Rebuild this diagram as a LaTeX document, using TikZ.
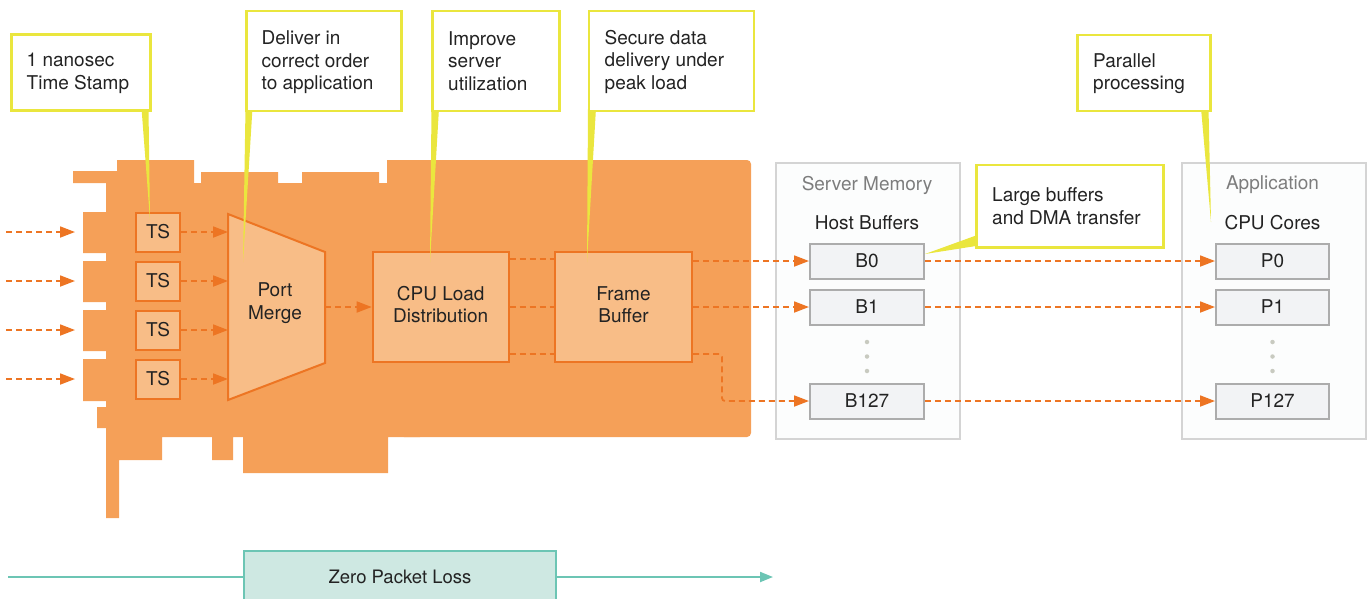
\documentclass[tikz,border=0pt]{standalone}
\usepackage{fontspec}
\setmainfont{TeX Gyre Heros}
\usetikzlibrary{arrows.meta,calc}
\definecolor{board}{RGB}{245,160,88}
\definecolor{inner}{RGB}{248,189,135}
\definecolor{borange}{RGB}{237,117,35}
\definecolor{cyel}{RGB}{234,230,62}
\definecolor{txt}{RGB}{35,35,35}
\definecolor{graytxt}{RGB}{125,125,125}
\definecolor{gline}{RGB}{212,212,212}
\definecolor{gfill}{RGB}{252,253,253}
\definecolor{cellb}{RGB}{172,172,172}
\definecolor{cellf}{RGB}{242,243,245}
\definecolor{dotc}{RGB}{200,202,192}
\definecolor{teal}{RGB}{108,197,180}
\definecolor{tealf}{RGB}{206,232,226}
\begin{document}
\begin{tikzpicture}[x=1pt,y=-1pt,
  font=\fontsize{19}{22.5}\selectfont,
  obox/.style={draw=borange, line width=2pt, fill=inner, text=txt, align=center, inner sep=0pt},
  tsbox/.style={obox, minimum width=44pt, minimum height=39pt},
  bigbox/.style={obox, minimum width=136pt, minimum height=110pt},
  btext/.style={text=txt, align=center, inner sep=0pt},
  darr/.style={draw=borange, line width=1.8pt, dash pattern=on 6pt off 4pt, -{Triangle[length=15pt,width=11pt]}},
  dline/.style={draw=borange, line width=1.8pt, dash pattern=on 6pt off 4pt},
  callout/.style={draw=cyel, line width=2.5pt, fill=white, inner sep=0pt, anchor=north west},
  ctext/.style={text=txt, align=left, inner sep=0pt, anchor=west},
  graybox/.style={draw=gline, line width=2pt, fill=gfill, inner sep=0pt, anchor=north west},
  cell/.style={draw=cellb, line width=2pt, fill=cellf, text=txt, inner sep=0pt, minimum width=114pt, minimum height=35pt},
  gdot/.style={circle, fill=dotc, inner sep=0pt, minimum size=4.5pt},
  tline/.style={draw=teal, line width=2pt}
]
\useasboundingbox (0,0) rectangle (1370,598);
\clip (0,0) rectangle (1370,598);

% board
\fill[board, rounded corners=4pt] (400,160) rectangle (751,437);
\fill[board] (73,171) -- (117,171) -- (117,160) -- (194,160) -- (194,183) -- (201,183) -- (201,172)
  -- (278,172) -- (278,183) -- (302,183) -- (302,172) -- (379,172) -- (379,183) -- (387,183)
  -- (387,160) -- (420,160) -- (420,437) -- (388,437) -- (388,473) -- (243,473) -- (243,437)
  -- (233,437) -- (233,460) -- (212,460) -- (212,437) -- (162,437) -- (162,460) -- (119,460)
  -- (119,518) -- (106,518) -- (106,428) -- (97,428) -- (97,407) -- (106,407) -- (106,401)
  -- (83,401) -- (83,359) -- (106,359) -- (106,351) -- (83,351) -- (83,310) -- (106,310)
  -- (106,302) -- (83,302) -- (83,261) -- (106,261) -- (106,253) -- (83,253) -- (83,212)
  -- (106,212) -- (106,183) -- (73,183) -- cycle;

% TS boxes
\node[tsbox] (ts1) at (158,232) {TS};
\node[tsbox] (ts2) at (158,281) {TS};
\node[tsbox] (ts3) at (158,330) {TS};
\node[tsbox] (ts4) at (158,379) {TS};

% port merge
\draw[draw=borange, line width=2pt, fill=inner] (228,214) -- (325,252) -- (325,363) -- (228,400) -- cycle;
\node[btext] (pm) at (275,303) {Port\\Merge};
\coordinate (pml) at (228,300);
\coordinate (pmr) at (325,307);

\node[bigbox] (cpu) at (440.7,307) {\raisebox{2pt}{\begin{tabular}{@{}c@{}}CPU Load\\Distribution\end{tabular}}};
\node[bigbox, minimum width=137pt] (frame) at (623.5,307) {\raisebox{1pt}{\begin{tabular}{@{}c@{}}Frame\\Buffer\end{tabular}}};

% input arrows
\foreach \i/\y in {1/232,2/281,3/330,4/379}{
  \coordinate (in\i s) at (6,\y);
  \coordinate (in\i e) at (75,\y);
  \draw[darr] (in\i s) -- (in\i e);
  \draw[darr] (ts\i.east) -- (ts\i.east -| pml);
}
\draw[darr] (pmr) -- (cpu.west);

% server memory
\node[graybox, minimum width=184pt, minimum height=275.5pt] (sm) at (775,162) {};
\node[text=graytxt, inner sep=0pt] (smt) at (867,185) {Server Memory};
\node[text=txt, inner sep=0pt] (hbt) at (867,223) {Host Buffers};
\node[cell] (b0) at (867,261) {B0};
\node[cell] (b1) at (867,307) {B1};
\node[cell] (b127) at (867,401) {B127};
\node[gdot] (bd1) at (867,342) {};
\node[gdot] (bd2) at (867,356.5) {};
\node[gdot] (bd3) at (867,371) {};

% application
\node[graybox, minimum width=183.5pt, minimum height=275.5pt] (app) at (1181,162) {};
\node[text=graytxt, inner sep=0pt] (appt) at (1272.5,185) {Application};
\node[text=txt, inner sep=0pt] (cct) at (1272.5,223) {CPU Cores};
\node[cell, minimum width=113pt] (p0) at (1272.5,261) {P0};
\node[cell, minimum width=113pt] (p1) at (1272.5,307) {P1};
\node[cell, minimum width=113pt] (p127) at (1272.5,401) {P127};
\node[gdot] (pd1) at (1272.5,342) {};
\node[gdot] (pd2) at (1272.5,356.5) {};
\node[gdot] (pd3) at (1272.5,371) {};

% cpu -> frame
\coordinate (c0) at ($(cpu.north east)+(0,8)$);
\coordinate (c2) at ($(cpu.south east)+(0,-9)$);
\draw[dline] (c0) -- (c0 -| frame.west);
\draw[dline] (cpu.east) -- (frame.west);
\draw[dline] (c2) -- (c2 -| frame.west);

% frame -> buffers
\draw[darr] (frame.east |- b0) -- (b0.west);
\draw[darr] (frame.east |- b1) -- (b1.west);
\coordinate (f2) at ($(frame.south east)+(0,-9)$);
\draw[darr, rounded corners=3pt] (f2) -- ++(29,0) |- (b127.west);

% buffers -> cores
\draw[darr] (b0.east) -- (p0.west);
\draw[darr] (b1.east) -- (p1.west);
\draw[darr] (b127.east) -- (p127.west);

% callout pointers
\fill[cyel] (141.5,108) -- (148.5,108) -- (150,220) -- cycle;
\fill[cyel] (245.5,108) -- (252.5,108) -- (243,262) -- cycle;
\fill[cyel] (431.5,108) -- (439,108) -- (430,262) -- cycle;
\fill[cyel] (588,108) -- (596,108) -- (587,262) -- cycle;
\fill[cyel] (976,235.5) -- (976,246) -- (925,254) -- cycle;
\fill[cyel] (1201,108) -- (1208.5,108) -- (1211,222) -- cycle;

% callouts
\node[callout, minimum width=139pt, minimum height=76pt] (k1) at (10,33) {};
\node[ctext] (k1t) at ($(k1.west)+(16.5,1)$) {1 nanosec\\Time Stamp};
\node[callout, minimum width=155pt, minimum height=100pt] (k2) at (245,9.5) {};
\node[ctext] (k2t) at ($(k2.west)+(16.5,1.5)$) {Deliver in\\correct order\\to application};
\node[callout, minimum width=127pt, minimum height=100pt] (k3) at (431,9.5) {};
\node[ctext] (k3t) at ($(k3.west)+(17,0)$) {Improve\\server\\utilization};
\node[callout, minimum width=165pt, minimum height=100pt] (k4) at (587.5,9.5) {};
\node[ctext] (k4t) at ($(k4.west)+(17,1)$) {Secure data\\delivery under\\peak load};
\node[callout, minimum width=187pt, minimum height=82.5pt] (k5) at (975,163.5) {};
\node[ctext] (k5t) at ($(k5.west)+(17,0)$) {Large buffers\\and DMA transfer};
\node[callout, minimum width=133pt, minimum height=76pt] (k6) at (1076,33.5) {};
\node[ctext] (k6t) at ($(k6.west)+(17,1)$) {Parallel\\processing};

% zero packet loss
\node[draw=teal, line width=2pt, fill=tealf, text=txt, minimum width=312pt, minimum height=52pt, inner sep=0pt,
  font=\fontsize{18.5}{22}\selectfont] (zpl) at (400,577) {Zero Packet Loss};
\coordinate (zs) at (8,577);
\coordinate (ze) at (773,577);
\draw[tline] (zs) -- (zpl.west);
\draw[tline, -{Triangle[length=13pt,width=10pt]}] (zpl.east) -- (ze);
\end{tikzpicture}
\end{document}
